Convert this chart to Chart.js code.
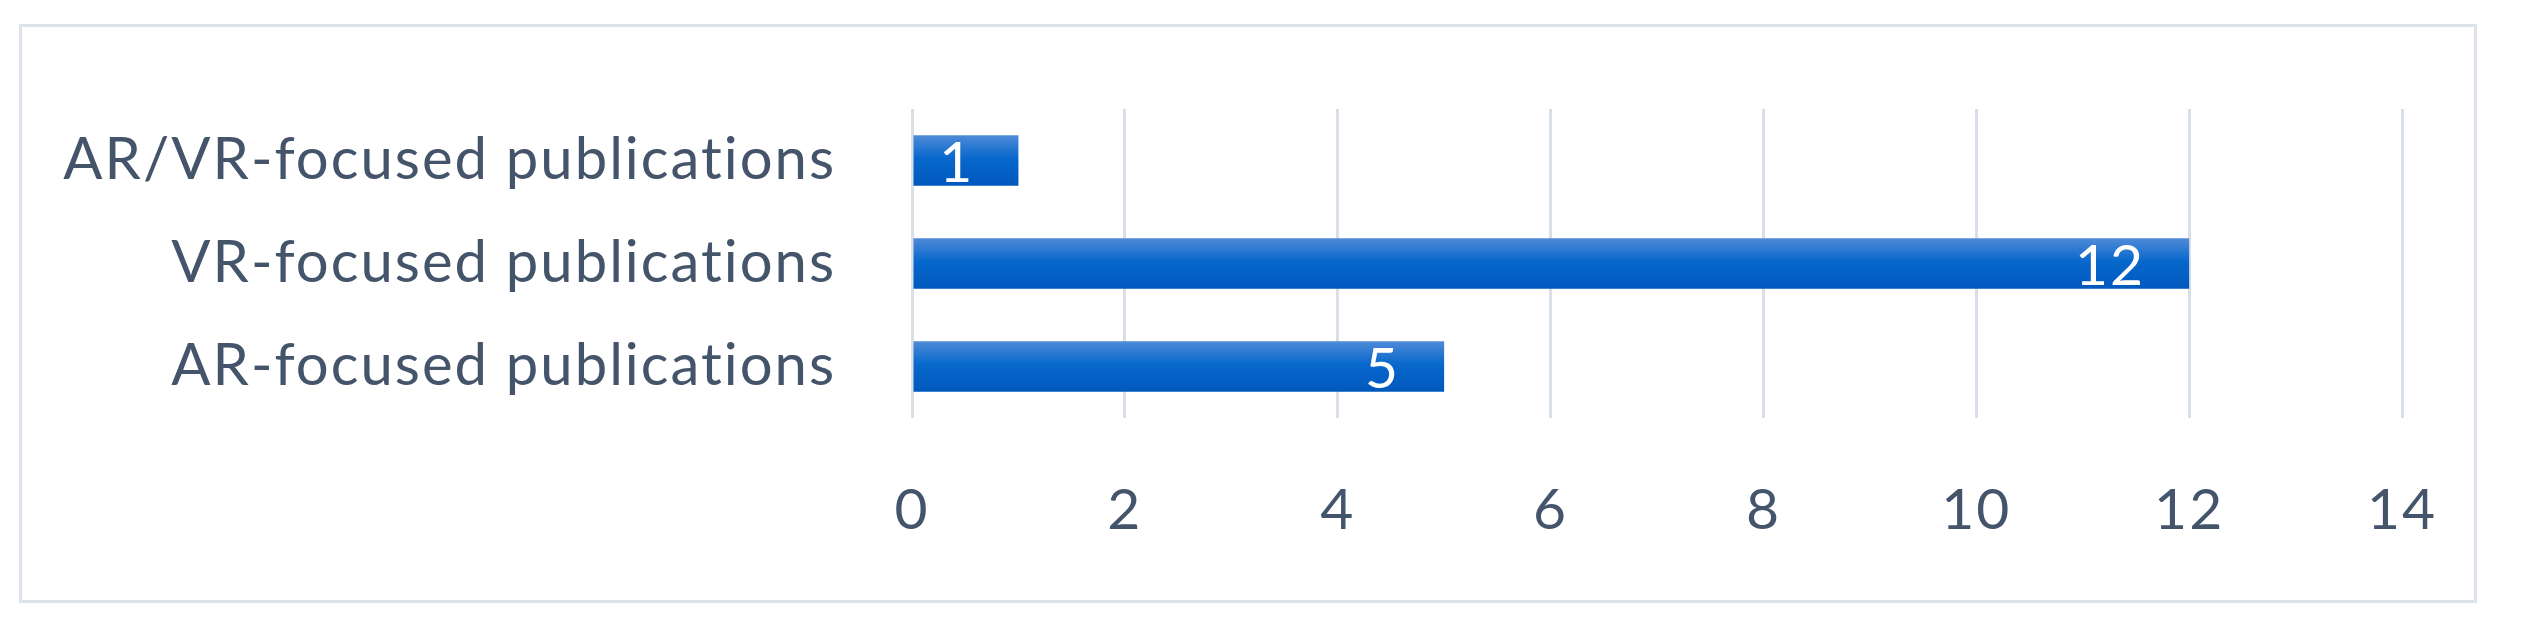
<!DOCTYPE html>
<html>
<head>
<meta charset="utf-8">
<script src="https://cdn.jsdelivr.net/npm/chart.js@4"></script>
<style>
  html, body { margin: 0; padding: 0; background: #ffffff; }
  #wrap { position: relative; width: 2543px; height: 619px; }
  #frame {
    position: absolute; left: 19px; top: 24px; width: 2452px; height: 573px;
    border: 3px solid #dde3ea;
  }
  canvas { position: absolute; left: 0; top: 0; }
</style>
</head>
<body>
<div id="wrap">
  <div id="frame"></div>
  <canvas id="chart" width="2543" height="619"></canvas>
</div>
<script>
// data
const categories = ['AR/VR-focused publications', 'VR-focused publications', 'AR-focused publications'];
const publications = [1, 12, 5];
const xTicks = [0, 2, 4, 6, 8, 10, 12, 14];

const textColor = '#44546a';
const fontFamily = 'Lato, "Open Sans", sans-serif';

// gradient like the office bar fill
const barFill = (ctx) => {
  const chart = ctx.chart;
  const y = chart.scales && chart.scales.y;
  if (ctx.type !== 'data' || !chart.chartArea || !y) return '#0a68cb';
  const cy = y.getPixelForValue(ctx.dataIndex);
  const h = 50;
  if (!Number.isFinite(cy)) return '#0a68cb';
  const g = chart.ctx.createLinearGradient(0, cy - h / 2, 0, cy + h / 2);
  g.addColorStop(0, '#4f8ad8');
  g.addColorStop(0.45, '#0868cc');
  g.addColorStop(1, '#0058bd');
  return g;
};

// looser text, also stops the "ti" ligature of Lato
const textSpacing = {
  id: 'textSpacing',
  beforeDraw(chart) {
    chart.ctx.letterSpacing = '2px';
  }
};

// value labels at the inner end of each bar
const valueLabels = {
  id: 'valueLabels',
  afterDatasetsDraw(chart) {
    const ctx = chart.ctx;
    const meta = chart.getDatasetMeta(0);
    ctx.save();
    ctx.fillStyle = '#ffffff';
    ctx.font = '57px ' + fontFamily;
    ctx.textAlign = 'right';
    ctx.textBaseline = 'middle';
    meta.data.forEach((bar, i) => {
      ctx.fillText(String(publications[i]), bar.x - 44, bar.y + 3);
    });
    ctx.restore();
  }
};

const chart = new Chart(document.getElementById('chart'), {
  type: 'bar',
  data: {
    labels: categories,
    datasets: [{
      data: publications,
      backgroundColor: barFill,
      borderWidth: 0,
      barPercentage: 0.49,
      categoryPercentage: 1
    }]
  },
  options: {
    indexAxis: 'y',
    responsive: false,
    animation: false,
    layout: { padding: { left: 0, top: 109, right: 141, bottom: 0 } },
    plugins: {
      legend: { display: false },
      tooltip: { enabled: false }
    },
    scales: {
      x: {
        min: 0,
        max: 14,
        afterBuildTicks: (scale) => { scale.ticks = xTicks.map(v => ({ value: v })); },
        afterFit: (scale) => { scale.height = 201; },
        border: { display: false },
        grid: { color: '#d9dfe7', lineWidth: 3, drawTicks: false },
        ticks: {
          color: textColor,
          padding: 58,
          font: { family: fontFamily, size: 57 }
        }
      },
      y: {
        afterFit: (scale) => { scale.width = 912; },
        border: { display: false },
        grid: { display: false },
        ticks: {
          color: textColor,
          padding: 68,
          font: { family: fontFamily, size: 58 }
        }
      }
    }
  },
  plugins: [textSpacing, valueLabels]
});
</script>
</body>
</html>
